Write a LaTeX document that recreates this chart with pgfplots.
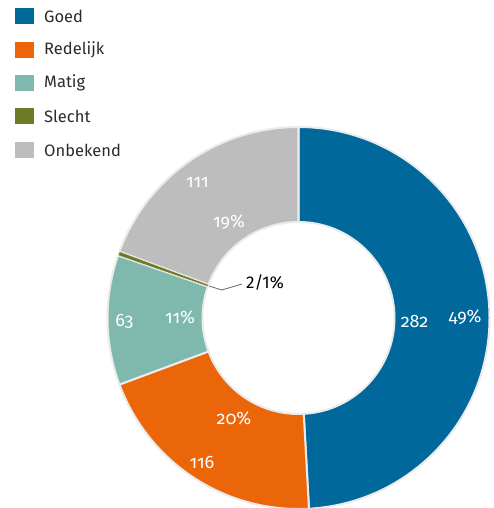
\documentclass[border=0pt]{standalone}
\usepackage{fontspec}
\setmainfont{Fira Sans}[Numbers=OldStyle]
\usepackage{pgfplots}
\usepackage{pgfplotstable}
\pgfplotsset{compat=1.18}

\definecolor{cGoed}{HTML}{01689B}
\definecolor{cRedelijk}{HTML}{EB6608}
\definecolor{cMatig}{HTML}{7FB9AE}
\definecolor{cSlecht}{HTML}{6E7A25}
\definecolor{cOnbekend}{HTML}{BDBDBD}
\definecolor{ring}{HTML}{EBEBEB}
\definecolor{legtext}{HTML}{2B2B2B}

\pgfplotstableread{
name     value
Goed     282
Redelijk 116
Matig    63
Slecht   2
Onbekend 111
}\donut

% centre and radii of the ring (1 unit = 1pt)
\def\cx{298.5}
\def\cy{190}
\def\Ro{191}
\def\Ri{96}
\pgfmathsetmacro\Rw{\Ro-\Ri}

% one ring segment: start angle, end angle, colour
\newcommand\slice[3]{%
  \filldraw[fill=#3, draw=ring, line width=2pt, line join=round]
    (axis cs:\cx,\cy) ++(#1:\Ro pt) arc[start angle=#1, end angle=#2, radius=\Ro pt]
    -- ++(#2:-\Rw pt) arc[start angle=#2, end angle=#1, radius=\Ri pt] -- cycle;}

\newcommand\legrow[3]{%
  \fill[#2] (axis cs:15,#1-8) rectangle (axis cs:34,#1+8);
  \node[anchor=west, inner sep=0, text=legtext, font=\fontsize{16.5}{19}\selectfont]
    at (axis cs:44,#1) {#3};}

\begin{document}
\begin{tikzpicture}
% values and cumulative angles, clockwise from 12 o'clock
\pgfplotstablegetelem{0}{value}\of\donut \let\vA\pgfplotsretval
\pgfplotstablegetelem{1}{value}\of\donut \let\vB\pgfplotsretval
\pgfplotstablegetelem{2}{value}\of\donut \let\vC\pgfplotsretval
\pgfplotstablegetelem{3}{value}\of\donut \let\vD\pgfplotsretval
\pgfplotstablegetelem{4}{value}\of\donut \let\vE\pgfplotsretval
\pgfmathsetmacro\total{\vA+\vB+\vC+\vD+\vE}
\pgfmathsetmacro\aA{90}
\pgfmathsetmacro\aB{\aA-360*(\vA/\total)}
\pgfmathsetmacro\aC{\aB-360*(\vB/\total)}
\pgfmathsetmacro\aD{\aC-360*(\vC/\total)}
\pgfmathsetmacro\aE{\aD-360*(\vD/\total)}
\pgfmathsetmacro\aF{\aE-360*(\vE/\total)}
\useasboundingbox (0,0) rectangle (493pt,508pt);
\begin{axis}[
    at={(0,0)}, anchor=south west,
    x=1pt, y=1pt,
    xmin=0, xmax=493, ymin=0, ymax=508,
    hide axis,
]
\slice{\aA}{\aB}{cGoed}
\slice{\aB}{\aC}{cRedelijk}
\slice{\aC}{\aD}{cMatig}
\slice{\aE}{\aF}{cOnbekend}
\filldraw[fill=cSlecht, draw=ring, line width=0.6pt]
    (axis cs:\cx,\cy) ++(\aD:\Ro pt) arc[start angle=\aD, end angle=\aE, radius=\Ro pt]
    -- ++(\aE:-\Rw pt) arc[start angle=\aE, end angle=\aD, radius=\Ri pt] -- cycle;

\begin{scope}[every node/.style={inner sep=0, text=white, font=\fontsize{18}{21}\selectfont}]
\node at (axis cs:414.5,187) {282};
\node at (axis cs:465,191) {49\%};
\node at (axis cs:202,46) {116};
\node at (axis cs:234,90) {20\%};
\node at (axis cs:124.5,187) {63};
\node at (axis cs:180,191) {11\%};
\node at (axis cs:197.5,326) {111};
\node at (axis cs:229,286) {19\%};
\end{scope}

\draw[black!60, line width=0.8pt] (axis cs:209,222) -- (axis cs:221.7,218) -- (axis cs:242,224);
\node[anchor=west, inner sep=0, text=black, font=\fontsize{17}{20}\selectfont\addfontfeatures{Numbers=Lining}]
    at (axis cs:246,225) {2/1\%};

\legrow{492}{cGoed}{Goed}
\legrow{458}{cRedelijk}{Redelijk}
\legrow{425}{cMatig}{Matig}
\legrow{391.5}{cSlecht}{Slecht}
\legrow{358}{cOnbekend}{Onbekend}
\end{axis}
\end{tikzpicture}
\end{document}
